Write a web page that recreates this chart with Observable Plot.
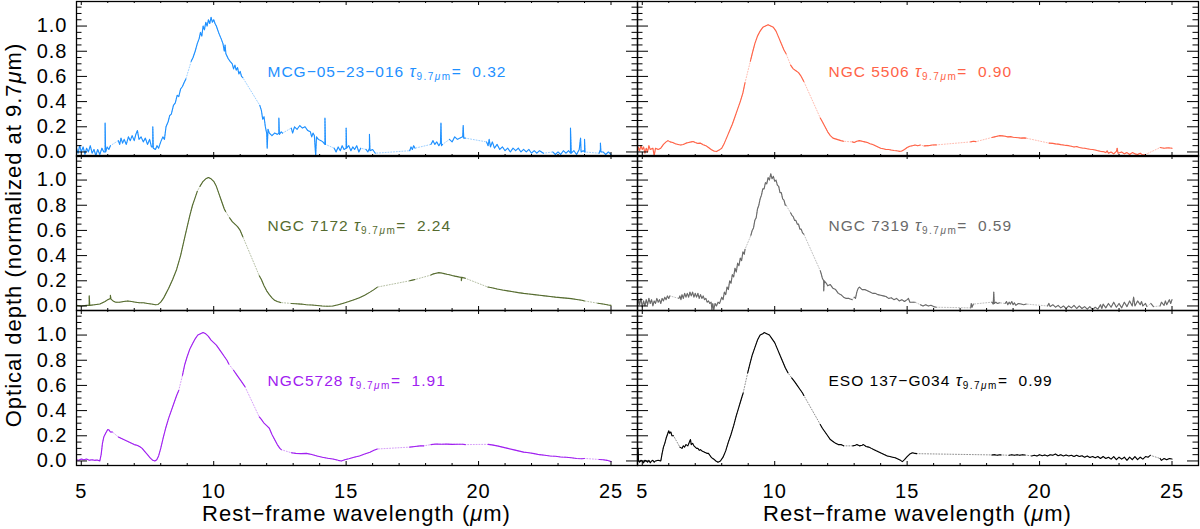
<!DOCTYPE html>
<html><head><meta charset="utf-8">
<script src="https://cdn.jsdelivr.net/npm/d3@7"></script>
<script src="https://cdn.jsdelivr.net/npm/@observablehq/plot@0.6"></script>
<style>
body{margin:0;background:#fff;}
#chart{position:relative;width:1200px;height:529px;overflow:hidden;font-family:"Liberation Sans",Arial,sans-serif;background:#fff;}
.panel{position:absolute;}
.title{position:absolute;font-size:22px;letter-spacing:1px;line-height:22px;white-space:nowrap;color:#000;text-align:center;}
</style></head><body><div id="chart"></div>
<script>
// ---- labels and series metadata ----
const galaxies = ["MCG−05−23−016", "NGC 5506", "NGC 7172", "NGC 7319", "NGC5728", "ESO 137−G034"];
const tauValues = ["0.32", "0.90", "2.24", "0.59", "1.91", "0.99"];
const colors = ["#1E90FF", "#FF6347", "#556B2F", "#696969", "#A020F0", "#000000"];
const xMajor = [5, 10, 15, 20, 25];
const xMinor = [6, 7, 8, 9, 11, 12, 13, 14, 16, 17, 18, 19, 21, 22, 23, 24];
const yMajor = [0, 0.2, 0.4, 0.6, 0.8, 1.0];
const yMinor = [0.05, 0.1, 0.15, 0.25, 0.3, 0.35, 0.45, 0.5, 0.55, 0.65, 0.7, 0.75, 0.85, 0.9, 0.95, 1.05, 1.1, 1.15];
const xTitle = "Rest−frame wavelength (";
const yTitle = "Optical depth (normalized at 9.7";

// ---- spectra: [wavelength (µm), optical depth]; null = gap in the data ----
const mcg = [
[4.82,0.03],[4.88,-0.01],[4.94,0.05],[5.0,0.0],[5.07,0.04],[5.14,-0.02],[5.2,0.03],[5.27,0.0],[5.34,0.05],[5.41,-0.01],[5.48,0.02],[5.55,-0.03],[5.62,0.02],[5.7,-0.02],[5.78,0.03],[5.85,0.0],[5.9,0.0],[5.9,0.23],[5.92,0.0],[5.98,0.04],[6.04,0.02],[6.1,0.05],
null,
[6.4,0.09],[6.45,0.06],[6.5,0.11],[6.56,0.07],[6.62,0.1],[6.7,0.06],[6.78,0.12],[6.85,0.09],[6.92,0.13],[7.0,0.09],[7.06,0.14],[7.12,0.17],[7.18,0.1],[7.26,0.12],[7.34,0.08],[7.42,0.11],[7.5,0.06],[7.58,0.1],[7.65,0.04],[7.7,0.04],[7.7,0.2],[7.72,0.03],[7.8,0.02],[7.86,0.05],[7.92,0.03],[8.0,0.08],[8.08,0.12],[8.14,0.1],[8.2,0.2],[8.28,0.24],[8.34,0.29],[8.4,0.3],[8.48,0.37],[8.55,0.39],[8.62,0.45],[8.68,0.44],[8.75,0.5],[8.82,0.52],[8.88,0.55],[8.95,0.58],
null,
[9.15,0.72],[9.22,0.75],[9.3,0.8],[9.38,0.86],[9.45,0.9],[9.5,0.95],[9.55,0.92],[9.6,1.0],[9.65,0.97],[9.7,1.03],[9.75,1.0],[9.8,1.05],[9.85,1.02],[9.9,1.07],[9.95,1.03],[10.0,1.05],[10.05,1.02],[10.1,1.0],[10.15,0.97],[10.2,0.94],[10.28,0.9],[10.35,0.86],[10.4,0.8],[10.43,0.85],[10.46,0.78],[10.55,0.74],[10.62,0.72],[10.7,0.7],[10.75,0.66],[10.8,0.69],[10.85,0.65],[10.9,0.67],[10.95,0.62],[11.0,0.64],[11.05,0.6],[11.1,0.59],
null,
[11.74,0.37],[11.8,0.33],[11.85,0.26],[11.9,0.28],[11.95,0.2],[12.0,0.15],[12.02,0.03],[12.05,0.18],[12.1,0.15],[12.2,0.13],[12.3,0.15],[12.4,0.14],[12.46,0.15],[12.46,0.27],[12.48,0.14],[12.55,0.16],[12.6,0.15],
null,
[12.93,0.19],[12.98,0.15],[13.05,0.2],[13.15,0.18],[13.25,0.21],[13.35,0.19],[13.45,0.2],[13.55,0.17],[13.65,0.16],[13.7,0.12],[13.75,0.15],[13.8,0.13],[13.85,-0.03],[13.88,0.12],[13.95,0.1],[14.05,0.09],[14.12,0.08],[14.2,0.06],[14.2,0.27],[14.22,0.06],
null,
[14.55,0.03],[14.62,0.0],[14.7,0.04],[14.78,0.01],[14.85,0.05],[14.92,0.02],[15.0,0.03],[15.0,0.19],[15.02,0.03],[15.1,0.05],[15.18,0.01],[15.25,0.04],[15.32,0.02],[15.4,0.05],[15.48,0.0],[15.55,0.03],
null,
[15.75,0.02],[15.82,0.0],[15.88,0.03],[15.88,0.14],[15.9,0.01],[16.0,0.02],[16.1,-0.01],
null,
[17.4,0.01],[17.45,0.04],[17.5,0.02],[17.55,0.05],[17.6,0.03],
null,
[18.2,0.06],[18.28,0.09],[18.35,0.06],[18.42,0.08],[18.5,0.05],[18.56,0.07],[18.58,0.23],[18.6,0.05],[18.64,0.06],
null,
[18.9,0.1],[19.0,0.08],[19.1,0.12],[19.2,0.1],[19.3,0.11],[19.4,0.12],[19.42,0.21],[19.44,0.11],[19.5,0.11],
null,
[20.3,0.08],[20.36,0.05],[20.4,0.1],[20.45,0.04],[20.52,0.08],[20.6,0.03],[20.7,0.06],[20.8,0.02],[20.9,0.04],[21.0,0.01],[21.1,0.03],[21.2,0.0],[21.3,0.03],[21.4,0.01],[21.5,0.03],[21.6,0.0],[21.7,0.02],[21.8,0.0],[21.9,0.02],[22.0,-0.01],[22.1,0.01],[22.2,-0.01],[22.3,0.01],[22.45,-0.01],
null,
[22.8,0.0],[22.9,-0.02],[23.0,0.0],[23.1,-0.02],[23.2,0.01],[23.3,-0.01],[23.4,0.01],[23.47,-0.01],[23.47,0.19],[23.5,-0.01],[23.6,0.01],[23.7,-0.02],[23.8,0.02],[23.85,0.11],[23.87,0.0],[23.95,0.01],[24.0,0.0],[24.0,0.1],[24.02,0.0],
null,
[24.55,-0.01],[24.6,0.02],[24.6,0.07],[24.62,0.0],[24.7,0.0],[24.8,-0.02],[24.9,0.0],[25.0,-0.02]
];

const ngc5506 = [
[4.82,0.0],[4.85,0.04],[4.9,0.01],[4.95,0.05],[5.0,0.02],[5.05,0.04],[5.1,-0.01],[5.15,0.03],[5.2,0.0],[5.25,0.05],[5.3,0.02],[5.4,0.03],[5.45,-0.03],[5.5,0.03],[5.6,0.02],[5.7,0.03],[5.8,0.06],[5.9,0.08],[5.97,0.09],[6.05,0.08],[6.15,0.075],[6.25,0.065],[6.35,0.06],[6.45,0.055],[6.55,0.06],[6.65,0.07],[6.75,0.075],[6.85,0.08],[6.92,0.083],[7.0,0.075],[7.1,0.068],[7.2,0.07],[7.3,0.058],[7.4,0.05],[7.5,0.035],[7.6,0.02],[7.7,0.008],[7.8,0.003],[7.9,0.015],[8.0,0.03],[8.1,0.07],[8.2,0.12],[8.3,0.17],[8.4,0.22],[8.5,0.28],[8.6,0.34],[8.7,0.4],[8.8,0.47],[8.88,0.55],
null,
[9.08,0.72],[9.15,0.78],[9.25,0.86],[9.35,0.92],[9.45,0.96],[9.55,0.99],[9.65,1.0],[9.75,1.01],[9.85,1.0],[9.95,0.99],[10.05,0.96],[10.15,0.91],[10.25,0.86],[10.35,0.81],[10.43,0.78],
null,
[10.6,0.69],[10.7,0.66],[10.8,0.645],[10.9,0.63],[11.0,0.6],[11.1,0.56],
null,
[11.72,0.27],[11.8,0.24],[11.9,0.2],[12.0,0.16],[12.1,0.13],[12.2,0.11],[12.35,0.1],[12.5,0.09],[12.6,0.085],
null,
[12.93,0.08],[13.0,0.075],[13.1,0.085],[13.2,0.09],[13.3,0.085],[13.4,0.08],[13.5,0.075],[13.6,0.065],[13.7,0.06],[13.8,0.05],[13.9,0.04],[14.0,0.03],[14.1,0.025],[14.2,0.02],[14.3,0.02],[14.4,0.015],[14.5,0.012],[14.6,0.01],[14.7,0.005],[14.8,0.008],[14.9,0.02],[15.0,0.035],[15.1,0.045],[15.2,0.05],[15.3,0.055],[15.4,0.05],[15.5,0.055],
null,
[15.64,0.048],[15.8,0.05],[15.95,0.055],[16.1,0.056],
null,
[17.4,0.08],[17.5,0.085],[17.6,0.082],
null,
[18.2,0.115],[18.3,0.12],[18.4,0.125],[18.5,0.13],[18.6,0.128],[18.7,0.125],[18.8,0.12],[18.9,0.122],[19.0,0.117],[19.1,0.115],[19.2,0.113],[19.3,0.11],[19.4,0.112],[19.49,0.11],
null,
[20.36,0.07],[20.5,0.068],[20.6,0.064],[20.7,0.062],[20.8,0.058],[20.9,0.055],[21.0,0.052],[21.1,0.05],[21.2,0.045],[21.3,0.04],[21.4,0.043],[21.5,0.036],[21.6,0.032],[21.7,0.03],[21.8,0.025],[21.9,0.022],[22.0,0.02],[22.1,0.015],[22.2,0.01],[22.3,0.005],[22.4,0.003],[22.5,-0.005],[22.55,0.01],[22.6,-0.01],[22.7,0.0],[22.8,-0.015],[22.9,0.005],[22.93,0.03],[22.96,-0.01],[23.1,0.0],[23.2,-0.015],[23.3,-0.005],[23.4,-0.02],[23.5,-0.005],[23.6,-0.015],[23.7,-0.02],[23.8,-0.01],[23.9,-0.025],[24.0,-0.02],
null,
[24.55,0.035],[24.7,0.03],[24.85,0.033],[25.0,0.03]
];

const ngc7172 = [
[4.82,0.005],[5.0,0.0],[5.2,0.005],[5.3,0.005],[5.3,0.08],[5.32,0.005],[5.5,0.01],[5.7,0.015],[5.9,0.035],[6.0,0.05],[6.1,0.06],[6.1,0.085],[6.12,0.055],[6.2,0.04],[6.3,0.03],[6.45,0.03],[6.6,0.035],[6.75,0.04],[6.9,0.035],[7.05,0.03],[7.2,0.025],[7.35,0.025],[7.5,0.02],[7.65,0.015],[7.8,0.01],[7.9,0.012],[8.0,0.03],[8.1,0.06],[8.2,0.1],[8.3,0.14],[8.45,0.21],[8.6,0.29],[8.75,0.4],[8.88,0.52],[9.0,0.63],[9.1,0.72],[9.2,0.8],[9.3,0.86],[9.38,0.91],
null,
[9.48,0.95],[9.6,0.99],[9.7,1.01],[9.8,1.02],[9.9,1.01],[10.0,0.99],[10.1,0.95],[10.2,0.89],[10.3,0.83],[10.4,0.77],[10.45,0.75],
null,
[10.6,0.7],[10.7,0.67],[10.8,0.65],[10.9,0.63],[11.0,0.6],[11.1,0.55],
null,
[11.72,0.24],[11.8,0.21],[11.9,0.16],[12.0,0.12],[12.1,0.09],[12.2,0.065],[12.3,0.045],[12.4,0.035],[12.53,0.027],
null,
[12.93,0.02],[13.1,0.018],[13.3,0.015],[13.5,0.01],[13.7,0.008],[13.9,0.004],[14.1,0.0],[14.3,-0.002],[14.5,0.0],[14.7,0.01],[14.9,0.022],[15.1,0.035],[15.3,0.05],[15.5,0.065],[15.7,0.085],[15.9,0.11],[16.05,0.13],[16.18,0.15],
null,
[17.4,0.2],[17.5,0.205],[17.6,0.21],
null,
[18.2,0.245],[18.3,0.255],[18.4,0.26],[18.5,0.265],[18.6,0.262],[18.7,0.257],[18.8,0.252],[18.9,0.248],[19.0,0.242],[19.1,0.237],[19.2,0.233],[19.3,0.228],[19.35,0.228],[19.35,0.2],[19.37,0.227],[19.5,0.22],
null,
[20.35,0.15],[20.5,0.145],[20.7,0.135],[20.9,0.127],[21.1,0.12],[21.3,0.113],[21.5,0.106],[21.7,0.1],[21.9,0.095],[22.1,0.09],[22.3,0.085],[22.5,0.08],[22.7,0.075],[22.9,0.07],[23.1,0.066],[23.3,0.062],[23.5,0.058],[23.7,0.052],[23.9,0.045],[24.0,0.04],
null,
[24.5,0.022],[24.7,0.015],[24.9,0.008],[25.0,0.005]
];

const ngc7319 = [
[4.82,0.0],[4.86,0.05],[4.9,0.01],[4.95,0.06],[5.0,-0.01],[5.05,0.04],[5.1,0.0],[5.15,0.05],[5.2,0.01],[5.25,0.06],[5.3,0.02],[5.35,0.05],[5.4,0.0],[5.45,0.04],[5.5,0.02],[5.55,0.06],[5.6,0.03],[5.65,0.05],[5.7,0.02],[5.75,0.06],[5.8,0.04],[5.85,0.07],[5.9,0.05],[5.95,0.08],[6.0,0.06],[6.04,0.08],
null,
[6.38,0.06],[6.42,0.08],[6.46,0.05],[6.5,0.09],[6.55,0.06],[6.6,0.1],[6.65,0.07],[6.7,0.1],[6.75,0.07],[6.8,0.11],[6.85,0.08],[6.9,0.11],[6.95,0.07],[7.0,0.1],[7.05,0.07],[7.1,0.1],[7.15,0.06],[7.2,0.09],[7.25,0.06],[7.3,0.08],[7.35,0.05],[7.4,0.06],[7.45,0.03],[7.5,0.04],[7.55,0.02],[7.6,0.03],[7.63,-0.03],[7.66,0.02],[7.7,-0.03],[7.75,0.02],[7.8,0.0],[7.86,0.03],[7.92,0.02],[8.0,0.07],[8.05,0.05],[8.1,0.11],[8.15,0.09],[8.2,0.15],[8.25,0.13],[8.3,0.2],[8.35,0.18],[8.4,0.25],[8.45,0.23],[8.5,0.3],[8.55,0.27],[8.6,0.34],[8.65,0.32],[8.7,0.38],[8.75,0.36],[8.8,0.43],[8.85,0.41],[8.88,0.45],
null,
[9.1,0.56],[9.15,0.6],[9.2,0.62],[9.25,0.68],[9.3,0.7],[9.35,0.77],[9.4,0.8],[9.45,0.85],[9.5,0.88],[9.55,0.93],[9.6,0.93],[9.65,0.98],[9.7,0.97],[9.75,1.02],[9.8,1.0],[9.85,1.05],[9.9,1.01],[9.95,1.03],[10.0,0.99],[10.05,1.0],[10.1,0.96],[10.15,0.95],[10.2,0.9],[10.25,0.9],[10.3,0.85],[10.35,0.84],[10.4,0.8],[10.43,0.8],
null,
[10.6,0.74],[10.65,0.72],[10.7,0.71],[10.75,0.68],[10.8,0.68],[10.85,0.65],[10.9,0.65],[10.95,0.61],[11.0,0.61],[11.05,0.58],[11.1,0.57],
null,
[11.72,0.28],[11.75,0.26],[11.8,0.22],[11.85,0.2],[11.85,0.12],[11.87,0.2],[11.95,0.18],[12.0,0.16],[12.1,0.17],[12.2,0.14],[12.3,0.13],[12.4,0.1],[12.5,0.09],[12.6,0.07],[12.7,0.06],[12.8,0.06],[12.93,0.05],
null,
[13.0,0.07],[13.05,0.06],[13.1,0.11],[13.15,0.14],[13.2,0.15],[13.3,0.13],[13.4,0.13],[13.5,0.12],[13.6,0.11],[13.7,0.1],[13.8,0.1],[13.9,0.09],[14.0,0.085],[14.1,0.08],[14.2,0.075],[14.3,0.06],[14.4,0.065],[14.5,0.05],[14.6,0.06],[14.7,0.04],[14.8,0.05],[14.9,0.035],[15.0,0.05],[15.05,0.06],[15.1,0.03],[15.2,0.03],[15.3,0.03],
null,
[15.5,0.01],[15.6,0.0],[15.7,0.01],[15.8,0.0],[15.9,0.005],[16.0,-0.005],[16.1,-0.01],
null,
[17.4,-0.015],[17.42,0.02],[17.45,-0.01],[17.5,0.015],
null,
[18.2,0.03],[18.25,0.015],[18.27,0.11],[18.29,0.02],[18.35,0.03],[18.4,0.02],[18.5,0.025],
null,
[18.7,0.02],[18.75,0.035],[18.8,0.01],[18.85,0.03],[18.9,0.015],[18.95,0.035],[19.0,0.01],[19.05,0.025],[19.1,0.005],[19.2,0.02],[19.3,0.015],[19.4,0.01],[19.5,0.015],
null,
[20.3,0.0],[20.35,0.02],[20.4,-0.005],[20.5,0.01],[20.6,-0.01],[20.7,0.005],[20.8,-0.015],[20.9,0.0],[21.0,-0.02],[21.1,0.0],[21.2,-0.015],[21.3,0.005],[21.4,-0.02],[21.5,0.0],[21.6,-0.02],[21.7,-0.005],[21.8,-0.025],[21.9,-0.005],[22.0,-0.03],[22.1,-0.01],[22.2,-0.025],[22.3,0.01],[22.35,-0.02],[22.4,0.015],[22.5,-0.015],[22.6,0.02],[22.7,-0.01],[22.8,0.03],[22.9,-0.01],[23.0,0.02],[23.1,-0.015],[23.2,0.03],[23.3,-0.005],[23.4,0.04],[23.5,0.0],[23.55,0.07],[23.6,0.0],[23.7,0.04],[23.8,0.01],[23.85,0.035],[23.9,0.0],[24.0,0.02],[24.05,-0.005],
null,
[24.2,0.02],[24.3,-0.005],
null,
[24.55,0.0],[24.6,0.03],[24.7,0.005],[24.75,0.04],[24.8,0.01],[24.9,0.05],[24.95,0.02],[25.0,0.05]
];

const ngc5728 = [
[4.82,0.01],[4.9,0.005],[5.0,0.015],[5.1,0.01],[5.2,0.015],[5.3,0.005],[5.4,0.01],[5.5,0.005],[5.6,0.008],[5.7,0.0],[5.75,0.05],[5.8,0.14],[5.85,0.19],[5.92,0.22],[6.0,0.25],[6.05,0.245],[6.1,0.23],[6.18,0.23],
null,
[6.4,0.19],[6.5,0.18],[6.6,0.17],[6.7,0.16],[6.8,0.15],[6.9,0.14],[7.0,0.13],[7.1,0.125],[7.2,0.115],[7.3,0.1],[7.4,0.075],[7.5,0.05],[7.6,0.025],[7.7,0.005],[7.78,0.0],[7.85,0.01],[7.92,0.04],[8.0,0.1],[8.1,0.19],[8.2,0.27],[8.3,0.34],[8.4,0.4],[8.5,0.46],[8.6,0.52],[8.68,0.56],
null,
[8.82,0.68],[8.9,0.76],[9.0,0.83],[9.1,0.89],[9.2,0.93],[9.3,0.97],[9.4,1.0],[9.5,1.01],[9.6,1.02],[9.7,1.01],[9.8,0.99],[9.9,0.96],[10.0,0.94],[10.1,0.92],[10.2,0.89],[10.3,0.86],[10.4,0.83],[10.5,0.8],[10.57,0.77],
null,
[10.75,0.72],[10.85,0.69],[10.95,0.66],[11.05,0.63],[11.18,0.59],
null,
[11.72,0.35],[11.8,0.33],[11.9,0.3],[12.0,0.28],[12.1,0.26],[12.2,0.21],[12.3,0.17],[12.4,0.13],[12.5,0.1],[12.55,0.09],
null,
[12.93,0.065],[13.1,0.06],[13.3,0.058],[13.5,0.06],[13.7,0.052],[13.9,0.04],[14.1,0.03],[14.3,0.022],[14.5,0.015],[14.7,0.005],[14.82,0.0],[14.95,0.01],[15.1,0.018],[15.3,0.03],[15.5,0.04],[15.7,0.055],[15.9,0.07],[16.05,0.085],[16.18,0.095],
null,
[17.4,0.11],[17.6,0.115],[17.8,0.12],[17.93,0.12],
null,
[18.2,0.13],[18.4,0.135],[18.6,0.133],[18.8,0.134],[19.0,0.132],[19.2,0.133],[19.4,0.133],[19.5,0.13],
null,
[20.36,0.132],[20.5,0.128],[20.7,0.12],[20.9,0.11],[21.1,0.1],[21.3,0.09],[21.5,0.08],[21.7,0.07],[21.9,0.065],[22.1,0.058],[22.3,0.05],[22.5,0.045],[22.7,0.04],[22.9,0.037],[23.1,0.032],[23.3,0.03],[23.5,0.025],[23.7,0.02],[23.9,0.018],[24.0,0.02],
null,
[24.55,0.012],[24.7,0.01],[24.85,0.005],[25.0,-0.005]
];

const eso137 = [
[4.82,0.0],[4.84,0.1],[4.86,0.0],[4.9,-0.01],[4.95,0.005],[5.0,0.0],[5.05,-0.015],[5.1,0.005],[5.15,0.0],[5.2,-0.01],[5.25,0.005],[5.3,-0.015],[5.35,0.0],[5.4,0.005],[5.45,-0.01],[5.5,0.0],[5.6,0.005],[5.7,0.0],[5.75,0.06],[5.8,0.11],[5.85,0.14],[5.9,0.18],[5.95,0.21],[6.0,0.24],[6.03,0.22],[6.08,0.23],[6.12,0.2],[6.18,0.2],
null,
[6.42,0.11],[6.5,0.1],[6.55,0.12],[6.6,0.11],[6.65,0.13],[6.72,0.12],[6.78,0.15],[6.82,0.17],[6.85,0.13],[6.9,0.14],[6.95,0.12],[7.0,0.11],[7.05,0.1],[7.1,0.1],[7.15,0.085],[7.2,0.09],[7.25,0.08],[7.3,0.075],[7.35,0.07],[7.4,0.065],[7.45,0.06],[7.5,0.06],[7.55,0.045],[7.6,0.03],[7.65,0.02],[7.7,0.015],[7.78,0.0],[7.86,-0.01],[7.95,0.0],[8.05,0.03],[8.15,0.08],[8.25,0.15],[8.35,0.21],[8.45,0.28],[8.55,0.36],[8.65,0.43],[8.75,0.5],[8.81,0.54],
null,
[8.98,0.7],[9.05,0.76],[9.15,0.84],[9.25,0.9],[9.35,0.96],[9.45,1.0],[9.55,1.01],[9.6,1.02],[9.7,1.01],[9.8,1.0],[9.9,0.97],[10.0,0.94],[10.1,0.89],[10.2,0.84],[10.3,0.79],[10.4,0.74],[10.5,0.7],
null,
[10.64,0.66],[10.75,0.63],[10.85,0.6],[10.95,0.57],[11.05,0.54],[11.1,0.52],
null,
[11.72,0.29],[11.8,0.26],[11.9,0.23],[12.0,0.2],[12.1,0.17],[12.2,0.155],[12.3,0.14],[12.4,0.13],[12.5,0.13],[12.6,0.12],
null,
[12.95,0.12],[13.05,0.125],[13.1,0.13],[13.2,0.12],[13.3,0.125],[13.35,0.13],[13.45,0.115],[13.55,0.11],[13.65,0.1],[13.75,0.09],[13.85,0.08],[13.95,0.07],[14.05,0.06],[14.15,0.05],[14.25,0.04],[14.35,0.035],[14.45,0.03],[14.55,0.025],[14.65,0.015],[14.75,0.005],[14.82,-0.005],[14.9,0.01],[15.0,0.035],[15.1,0.055],[15.2,0.065],[15.3,0.06],[15.36,0.058],
null,
[18.2,0.048],[18.3,0.05],[18.4,0.045],[18.5,0.05],[18.55,0.048],
null,
[18.85,0.045],[18.95,0.05],[19.05,0.045],[19.15,0.05],[19.25,0.045],[19.35,0.05],[19.45,0.047],
null,
[19.7,0.04],[19.8,0.045],[19.9,0.04],[20.0,0.05],[20.1,0.042],[20.2,0.048],[20.3,0.04],[20.4,0.05],[20.5,0.045],[20.6,0.055],[20.7,0.042],[20.8,0.05],[20.9,0.04],[21.0,0.048],[21.1,0.04],[21.2,0.045],[21.3,0.035],[21.4,0.045],[21.5,0.035],[21.6,0.042],[21.7,0.03],[21.8,0.04],[21.9,0.028],[22.0,0.035],[22.1,0.025],[22.2,0.035],[22.3,0.02],[22.4,0.035],[22.5,0.02],[22.6,0.03],[22.7,0.015],[22.8,0.035],[22.9,0.01],[23.0,0.03],[23.1,0.015],[23.2,0.03],[23.3,0.005],[23.4,0.03],[23.5,0.01],[23.6,0.035],[23.7,0.01],[23.8,0.03],[23.9,0.015],[24.0,0.035],[24.1,0.03],[24.18,0.045],
null,
[24.55,0.02],[24.6,0.005],[24.7,0.02],[24.8,0.01],[24.9,0.02],[25.0,0.015]
];

const seriesData = [mcg, ngc5506, ngc7172, ngc7319, ngc5728, eso137];

// ---- layout ----
const W = 561, H = 155;
const xDomain = [4.82, 26.0];
const yDomain = [-0.036, 1.195];
const colLeft = [76, 637];
const rowTop = [0.5, 155, 309.5];
const FONT = "'Liberation Sans', Arial, Helvetica, sans-serif";
const chart = document.getElementById("chart");
const NS = "http://www.w3.org/2000/svg";

seriesData.forEach((series, i) => {
  const row = Math.floor(i / 2), col = i % 2;
  const color = colors[i];
  const rows = series.map(p => p ? {w: p[0], d: p[1]} : {w: NaN, d: NaN});
  const joined = rows.filter(r => !isNaN(r.w));
  const label = galaxies[i] + " tau" + tauValues[i];
  const marks = [
    Plot.line(joined, {x: "w", y: "d", stroke: color, strokeWidth: 0.8, strokeDasharray: "1,1.8", strokeOpacity: 0.55, clip: true}),
    Plot.line(rows, {x: "w", y: "d", stroke: color, strokeWidth: 1.1, clip: true}),
    Plot.frame({stroke: "#000", strokeWidth: 1.3}),
    Plot.tickY(yMajor, {y: d => d, insetRight: W - 11, stroke: "#000"}),
    Plot.tickY(yMajor, {y: d => d, insetLeft: W - 11, stroke: "#000"}),
    Plot.tickY(yMinor, {y: d => d, insetRight: W - 5.5, stroke: "#000"}),
    Plot.tickY(yMinor, {y: d => d, insetLeft: W - 5.5, stroke: "#000"}),
    Plot.tickX(xMajor, {x: d => d, insetBottom: H - 4, stroke: "#000"}),
    Plot.tickX(xMajor, {x: d => d, insetTop: H - 4, stroke: "#000"}),
    Plot.tickX(xMinor, {x: d => d, insetBottom: H - 2, stroke: "#000"}),
    Plot.tickX(xMinor, {x: d => d, insetTop: H - 2, stroke: "#000"}),
    Plot.text([label], {x: 12.03, y: 0.635, text: d => d, fill: color, fontSize: 15.5, textAnchor: "start", lineAnchor: "middle"})
  ];
  if (col === 0) {
    marks.push(Plot.text(yMajor, {y: d => d, text: d => d.toFixed(1), frameAnchor: "left", textAnchor: "end", dx: -9, fontSize: 20, fill: "#000"}));
  }
  if (row === 2) {
    marks.push(Plot.text(xMajor, {x: d => d, text: d => String(d), frameAnchor: "bottom", lineAnchor: "middle", dy: 26, fontSize: 20, fill: "#000"}));
  }
  const svg = Plot.plot({
    width: W, height: H, margin: 0,
    x: {domain: xDomain, axis: null},
    y: {domain: yDomain, axis: null},
    style: {overflow: "visible", fontFamily: FONT, background: "transparent", letterSpacing: "1px"},
    marks
  });
  svg.classList.add("panel");
  svg.style.position = "absolute";
  svg.style.left = colLeft[col] + "px";
  svg.style.top = rowTop[row] + "px";
  svg.style.maxWidth = "none";
  // rich annotation: name τ_{9.7μm}= value
  const t = [...svg.querySelectorAll("text")].find(e => e.textContent === label);
  if (t) {
    t.textContent = "";
    t.setAttribute("letter-spacing", "1");
    t.style.whiteSpace = "pre";
    const add = (s, attrs = {}) => {
      const sp = document.createElementNS(NS, "tspan");
      sp.textContent = s;
      for (const k in attrs) sp.setAttribute(k, attrs[k]);
      t.appendChild(sp);
      return sp;
    };
    add(galaxies[i] + " ");
    add("τ", {"font-style": "italic", "font-size": 16});
    add("9.7", {dy: 3, "font-size": 10, "letter-spacing": 1.5});
    add("μ", {"font-style": "italic", "font-size": 10, "letter-spacing": 1.5});
    add("m", {"font-size": 10, "letter-spacing": 1.5});
    add("=  " + tauValues[i], {dy: -3, "font-size": 15.5});
  }
  chart.appendChild(svg);
});

// ---- axis titles ----
[0, 1].forEach(col => {
  const d = document.createElement("div");
  d.className = "title";
  d.style.width = "400px";
  d.style.left = (colLeft[col] + W / 2 - 200) + "px";
  d.style.top = "503px";
  d.innerHTML = xTitle + "<span style=\"font-style:italic\">μ</span>m)";
  chart.appendChild(d);
});
const yt = document.createElement("div");
yt.className = "title";
yt.style.width = "440px";
yt.style.left = (13.5 - 220) + "px";
yt.style.top = (234.5 - 11) + "px";
yt.style.transform = "rotate(-90deg)";
yt.style.transformOrigin = "50% 50%";
yt.innerHTML = yTitle + "<span style=\"font-style:italic\">μ</span>m)";
chart.appendChild(yt);
</script></body></html>
